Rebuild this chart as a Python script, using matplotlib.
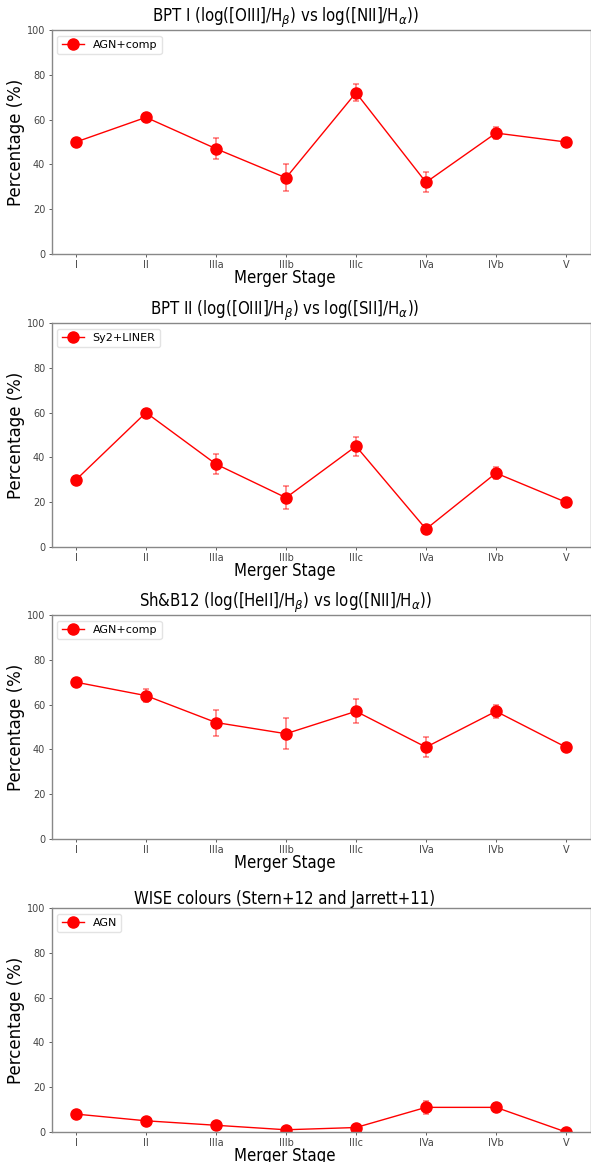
"""
Fraction of AGN vs merger stage for four diagnostics
"""

import matplotlib
matplotlib.use('Agg')
import matplotlib.pyplot as plt

stages = ['I', 'II', 'IIIa', 'IIIb', 'IIIc', 'IVa', 'IVb', 'V']

bpt1_vals = [50, 61, 47, 34, 72, 32, 54, 50]
bpt1_errs = [1.5, 2, 4.7, 6, 3.9, 4.4, 2.8, 2]

bpt2_vals = [30, 60, 37, 22, 45, 8, 33, 20]
bpt2_errs = [1.5, 1.5, 4.6, 5.2, 4.3, 2, 2.5, 1.5]

shb_vals = [70, 64, 52, 47, 57, 41, 57, 41]
shb_errs = [1.5, 2.9, 5.8, 7, 5.3, 4.6, 3, 1.5]

wise_vals = [8, 5, 3, 1, 2, 11, 11, 0]
wise_errs = [1.5, 1.2, 1, 0.8, 1, 3, 2, 0.5]

titles = [
    r'BPT I (log([OIII]/H$_\beta$) vs log([NII]/H$_\alpha$))',
    r'BPT II (log([OIII]/H$_\beta$) vs log([SII]/H$_\alpha$))',
    r'Sh&B12 (log([HeII]/H$_\beta$) vs log([NII]/H$_\alpha$))',
    'WISE colours (Stern+12 and Jarrett+11)',
]
labels = ['AGN+comp', 'Sy2+LINER', 'AGN+comp', 'AGN']
panels = [(bpt1_vals, bpt1_errs), (bpt2_vals, bpt2_errs),
          (shb_vals, shb_errs), (wise_vals, wise_errs)]

W, H = 591, 1162
fig = plt.figure(figsize=(W / 100, H / 100), dpi=100)

# axes tops in pixels, each panel is 224 px tall
tops = [30, 323, 615, 908]
ax_h = 224
left, right = 51.5, 590.5
ax_w = right - left
xc = (285 - left) / ax_w  # title / xlabel centre in the original

x = list(range(len(stages)))
for top, (vals, errs), title, lab in zip(tops, panels, titles, labels):
    ax = fig.add_axes([left / W, 1 - (top + ax_h) / H, ax_w / W, ax_h / H])
    ax.errorbar(x, vals, yerr=errs, fmt='none', ecolor='red', alpha=0.5,
                capsize=2.5, elinewidth=1.2, capthick=1.2)
    ax.plot(x, vals, 'o-', color='red', markersize=8, linewidth=1, label=lab)
    ax.set_ylim(0, 100)
    ax.set_xticks(x)
    ax.set_xticklabels(stages)
    ax.tick_params(labelsize=7, colors='#444444', length=2.5, width=0.6, pad=2)
    for sp in ax.spines.values():
        sp.set_color('#888888')
        sp.set_linewidth(1)
    ax.set_title(title, fontsize=12, pad=-1, x=xc, fontstretch='condensed')
    ax.set_xlabel('Merger Stage', fontsize=12, fontstretch='condensed')
    ax.xaxis.set_label_coords(xc, -0.068)
    ax.set_ylabel('Percentage (%)', fontsize=12)
    ax.yaxis.set_label_coords((25 - left) / ax_w, 0.5)
    ax.legend(loc='upper left', fontsize=8, borderpad=0.4, handlelength=2,
              framealpha=0.8, edgecolor='#dddddd', fancybox=True)

plt.savefig('out.png', dpi=100)
